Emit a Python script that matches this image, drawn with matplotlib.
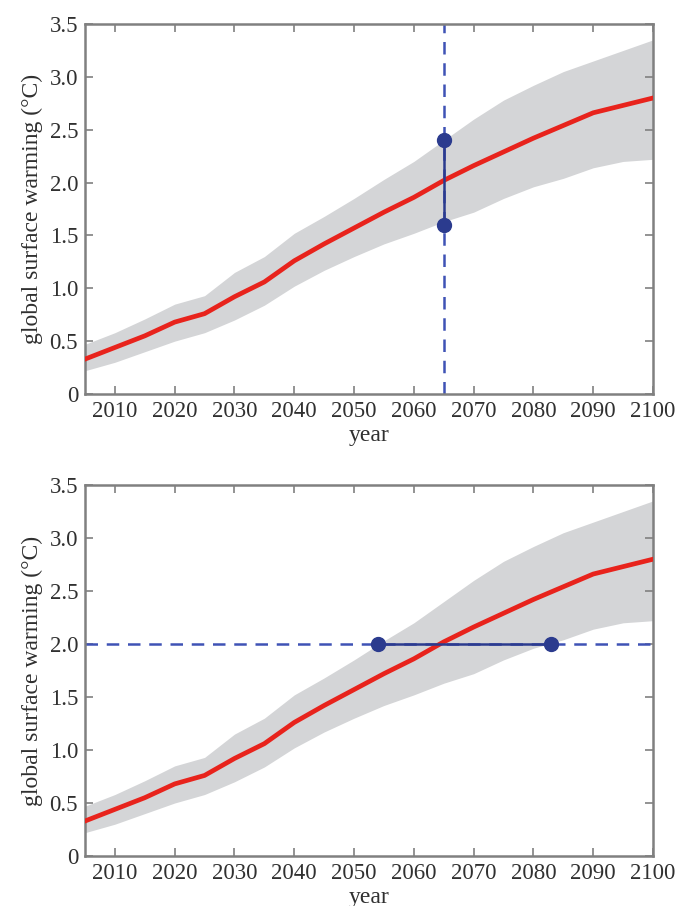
import numpy as np
import matplotlib.pyplot as plt

years = [2005, 2010, 2015, 2020, 2025, 2030, 2035, 2040, 2045, 2050,
         2055, 2060, 2065, 2070, 2075, 2080, 2085, 2090, 2095, 2100]
mean = [0.33, 0.44, 0.55, 0.68, 0.76, 0.92, 1.06, 1.26, 1.42, 1.57,
        1.72, 1.86, 2.02, 2.16, 2.29, 2.42, 2.54, 2.66, 2.73, 2.80]
upper = [0.47, 0.58, 0.71, 0.85, 0.93, 1.15, 1.30, 1.52, 1.68, 1.85,
         2.03, 2.20, 2.40, 2.60, 2.78, 2.92, 3.05, 3.15, 3.25, 3.35]
lower = [0.22, 0.30, 0.40, 0.50, 0.58, 0.70, 0.84, 1.02, 1.17, 1.30,
         1.42, 1.52, 1.63, 1.72, 1.85, 1.96, 2.04, 2.14, 2.20, 2.22]

# panel a: spread at a fixed year
fixed_year = 2065
spread_vals = [1.6, 2.4]
# panel b: spread in time at a fixed warming level
fixed_warming = 2.0
cross_years = [2054, 2083]

xticks = list(range(2010, 2101, 10))
yticks = [0, 0.5, 1.0, 1.5, 2.0, 2.5, 3.0, 3.5]
ylabels = ['0', '0.5', '1.0', '1.5', '2.0', '2.5', '3.0', '3.5']

plt.rcParams['font.family'] = ['Liberation Serif', 'DejaVu Serif']

red = '#e8231c'
band = '#d4d5d7'
blue_dash = '#3f52b5'
blue = '#2b3b8e'
spine = '#808080'
txt = '#303030'

fig = plt.figure(figsize=(6.82, 9.06), dpi=100)
ax1 = fig.add_axes([85/682, 1-394/906, 568/682, 370/906])
ax2 = fig.add_axes([85/682, 1-856/906, 568/682, 371/906])

for ax in (ax1, ax2):
    ax.fill_between(years, lower, upper, color=band, lw=0, zorder=1)
    ax.plot(years, mean, color=red, lw=3.4, zorder=3)
    ax.set_xlim(2005, 2100)
    ax.set_ylim(0, 3.5)
    ax.set_xticks(xticks)
    ax.set_yticks(yticks)
    ax.set_yticklabels(ylabels)
    ax.tick_params(direction='in', top=True, right=True, length=6,
                   width=1.2, color=spine, labelsize=16.5, pad=5,
                   labelcolor=txt)
    for s in ax.spines.values():
        s.set_color(spine)
        s.set_linewidth(1.8)
    ax.set_ylabel('global surface warming (°C)', fontsize=17, color=txt, labelpad=5)
    ax.set_xlabel('year', fontsize=17, color=txt, labelpad=2)

ax1.axvline(fixed_year, color=blue_dash, lw=1.8, ls=(0, (5, 3.5)), zorder=2)
ax1.plot([fixed_year] * 2, spread_vals, color=blue, lw=1.8, zorder=4,
         marker='o', ms=10, clip_on=False)

ax2.axhline(fixed_warming, color=blue_dash, lw=1.8, ls=(0, (5, 3.5)), zorder=2)
ax2.plot(cross_years, [fixed_warming] * 2, color=blue, lw=1.8, zorder=4,
         marker='o', ms=10)

fig.savefig('out.png', dpi=100)
